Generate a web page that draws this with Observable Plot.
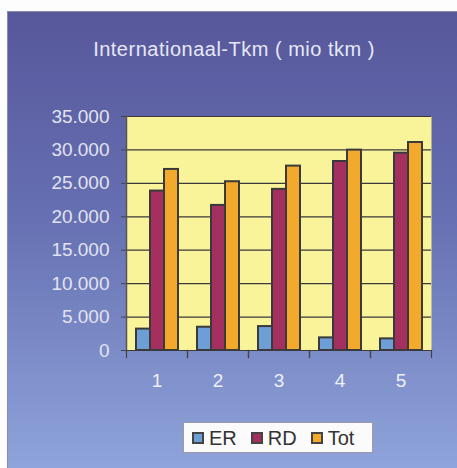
<!DOCTYPE html>
<html>
<head>
<meta charset="utf-8">
<script src="https://cdn.jsdelivr.net/npm/d3@7"></script>
<script src="https://cdn.jsdelivr.net/npm/@observablehq/plot@0.6"></script>
<style>
  html, body { margin: 0; padding: 0; background: #fdfdfd; }
  #page { position: relative; width: 457px; height: 468px; overflow: hidden; font-family: "Liberation Sans", Arial, sans-serif; }
  #panel { position: absolute; left: 7px; top: 11px; width: 450px; height: 457px;
    background: linear-gradient(to bottom, #57579b 0%, #6670b2 45%, #8fa4da 100%);
    border-left: 1px solid #8a8aa0; border-top: 1px solid #8a8aa0; box-sizing: border-box; }
  #title { position: absolute; left: 234px; top: 39px; transform: translateX(-50%); white-space: nowrap;
    font-size: 20px; line-height: 1; letter-spacing: 0.5px; color: #e6e8f6; }
  #chart { position: absolute; left: 0; top: 0; }
  #legend { position: absolute; left: 183px; top: 422px; width: 190px; height: 31px; box-sizing: border-box;
    background: #fbfbfb; border: 1px solid #9a9aa8; display: flex; align-items: center; padding-left: 8px; }
  .sw { width: 12px; height: 12px; box-sizing: border-box; border: 2px solid #444; margin-right: 5px; }
  .lt { font-size: 20px; line-height: 1; color: #333; margin-right: 14px; }
</style>
</head>
<body>
<div id="page">
  <div id="panel"></div>
  <div id="title"></div>
  <div id="chart"></div>
  <div id="legend"></div>
</div>
<script>
const titleText = "Internationaal-Tkm ( mio tkm )";
const categories = ["1", "2", "3", "4", "5"];
const series = ["ER", "RD", "Tot"];
const erValues = [3200, 3480, 3580, 1890, 1740];
const rdValues = [23850, 21700, 24100, 28270, 29520];
const totValues = [27080, 25240, 27580, 29970, 31110];
const yTicks = [0, 5000, 10000, 15000, 20000, 25000, 30000, 35000];
const colors = ["#6e9ed6", "#a3305e", "#f3a92c"];

const seriesValues = [erValues, rdValues, totValues];
const data = categories.flatMap((c, i) =>
  series.map((s, j) => ({cat: c, series: s, value: seriesValues[j][i]}))
);

const locale = d3.formatLocale({decimal: ",", thousands: ".", grouping: [3], currency: ["", ""]});
const fmt = locale.format(",d");

const W = 457, H = 400, mT = 116, mB = 50, mL = 125, mR = 26;
const innerH = H - mT - mB;

document.getElementById("title").textContent = titleText;

const chart = Plot.plot({
  width: W, height: H,
  marginTop: mT, marginBottom: mB, marginLeft: mL, marginRight: mR,
  style: {background: "transparent", fontFamily: "Liberation Sans, Arial, sans-serif", overflow: "visible"},
  fx: {domain: categories, padding: 0, axis: null, label: null},
  x: {domain: series, paddingInner: 0, paddingOuter: 0.66, axis: null, label: null},
  y: {domain: [0, 35000], axis: null, label: null},
  color: {domain: series, range: colors},
  marks: [
    Plot.frame({fill: "#f9f49a", stroke: "none", facet: "super"}),
    Plot.gridY(yTicks, {stroke: "#3a3a3a", strokeOpacity: 1, strokeWidth: 1.2}),
    Plot.barY(data, {fx: "cat", x: "series", y: "value", fill: "series", stroke: "#3a3a3a", strokeWidth: 2}),
    Plot.frame({anchor: "left", facet: "super", stroke: "#555", strokeWidth: 1.5}),
    Plot.frame({anchor: "left", insetTop: innerH, insetBottom: -7, stroke: "#444", strokeWidth: 1.2}),
    Plot.frame({anchor: "right", insetTop: innerH, insetBottom: -7, stroke: "#444", strokeWidth: 1.2}),
    Plot.axisY(yTicks, {tickSize: 5, color: "#444", tickFormat: () => "", label: null}),
    Plot.axisY(yTicks, {tickSize: 0, tickPadding: 17, tickFormat: fmt, fontSize: 19, color: "#e2e3f0", label: null}),
    Plot.axisFx({anchor: "bottom", tickSize: 0, tickPadding: 23, fontSize: 19, color: "#eef0fa", label: null})
  ]
});
document.getElementById("chart").appendChild(chart);

const legend = document.getElementById("legend");
series.forEach((s, i) => {
  const sw = document.createElement("div");
  sw.className = "sw";
  sw.style.background = colors[i];
  const t = document.createElement("div");
  t.className = "lt";
  t.textContent = s;
  legend.appendChild(sw);
  legend.appendChild(t);
});
</script>
</body>
</html>
